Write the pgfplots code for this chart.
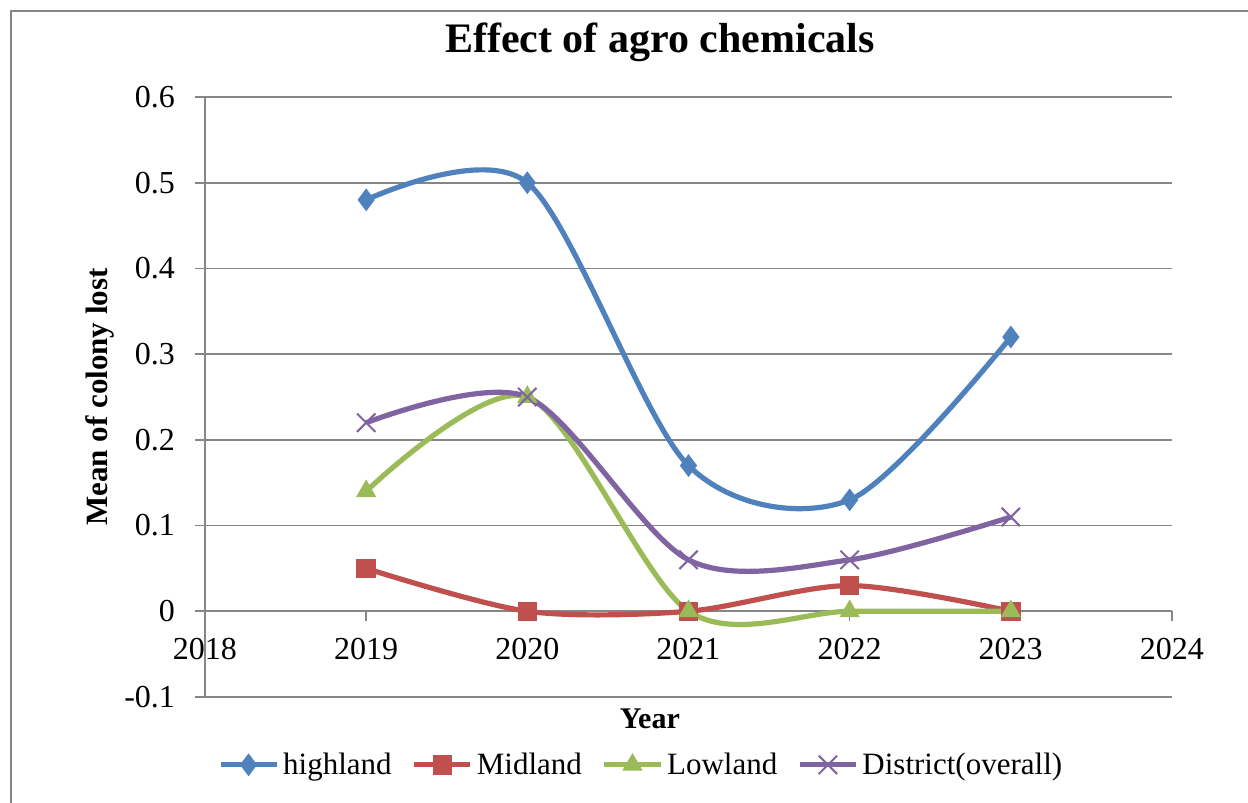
\documentclass[border=0pt]{standalone}
\usepackage{pgfplots}
\pgfplotsset{compat=1.18}
\usepackage{fontspec}
\setmainfont{Liberation Serif}

\definecolor{cHigh}{HTML}{4F81BD}
\definecolor{cMid}{HTML}{C0504D}
\definecolor{cLow}{HTML}{9BBB59}
\definecolor{cDist}{HTML}{8064A2}
\definecolor{cGrid}{HTML}{868686}

\pgfplotstableread{
year high mid low dist
2019 0.48 0.05 0.14 0.22
2020 0.50 0.00 0.25 0.25
2021 0.17 0.00 0.00 0.06
2022 0.13 0.03 0.00 0.06
2023 0.32 0.00 0.00 0.11
}\agrodata

\begin{document}
\begin{tikzpicture}
\useasboundingbox (0pt,0pt) rectangle (624pt,401.5pt);
% outer chart frame
\draw[cGrid, line width=0.8pt] (5.5pt,0pt) -- (5.5pt,396pt) -- (624pt,396pt);
\begin{axis}[
  at={(102.5pt,53pt)}, anchor=south west,
  width=483.5pt, height=300pt, scale only axis,
  xmin=2018, xmax=2024, ymin=-0.1, ymax=0.6,
  xtick={2018,2019,...,2024}, ytick={-0.1,0,...,0.6},
  axis x line*=middle, axis y line*=left,
  hide obscured x ticks=false,
  tick align=outside, major tick length=5pt,
  every tick/.style={cGrid, line width=0.8pt},
  axis line style={cGrid, line width=0.8pt},
  ymajorgrids, grid style={cGrid, line width=0.8pt},
  /pgf/number format/assume math mode=true,
  x tick label style={/pgf/number format/1000 sep={}, font=\fontsize{16}{16}\selectfont, yshift=-5pt},
  y tick label style={/pgf/number format/fixed, font=\fontsize{16}{16}\selectfont, xshift=-6.5pt},
  xlabel={Year}, ylabel={Mean of colony lost},
  xlabel style={font=\bfseries\fontsize{15}{15}\selectfont, at={(axis description cs:0.46,-0.0367)}, anchor=center},
  ylabel style={font=\bfseries\fontsize{15.5}{15.5}\selectfont, at={(axis description cs:-0.1086,0.5)}, anchor=center, rotate=0},
  title={Effect of agro chemicals},
  title style={font=\bfseries\fontsize{21}{21}\selectfont, at={(axis description cs:0.4705,1.0713)}, anchor=center, yshift=0pt},
  legend columns=4,
  legend style={draw=none, font=\fontsize{15.5}{15.5}\selectfont, at={(axis description cs:0.452,-0.113)}, anchor=center,
    /tikz/every even column/.append style={column sep=8pt}},
  legend image code/.code={\draw[#1, mark repeat=2, mark phase=2] plot coordinates {(0pt,0pt) (14pt,0pt) (28pt,0pt)};},
  clip=false,
]
\addplot[cHigh, line width=2.6pt, smooth, tension=0.5, mark=diamond*, mark size=5.3pt, mark options={line width=0.5pt}] table[x=year, y=high] {\agrodata};
\addplot[cMid, line width=2.6pt, smooth, tension=0.5, mark=square*, mark size=4.6pt, mark options={line width=0.5pt}] table[x=year, y=mid] {\agrodata};
\addplot[cLow, line width=2.6pt, smooth, tension=0.5, mark=triangle*, mark size=5.4pt, mark options={line width=0.5pt}] table[x=year, y=low] {\agrodata};
\addplot[cDist, line width=2.6pt, smooth, tension=0.5, mark=x, mark size=6.5pt, mark options={line width=1pt}] table[x=year, y=dist] {\agrodata};
\legend{highland, Midland, Lowland, District(overall)}
\end{axis}
\end{tikzpicture}
\end{document}
